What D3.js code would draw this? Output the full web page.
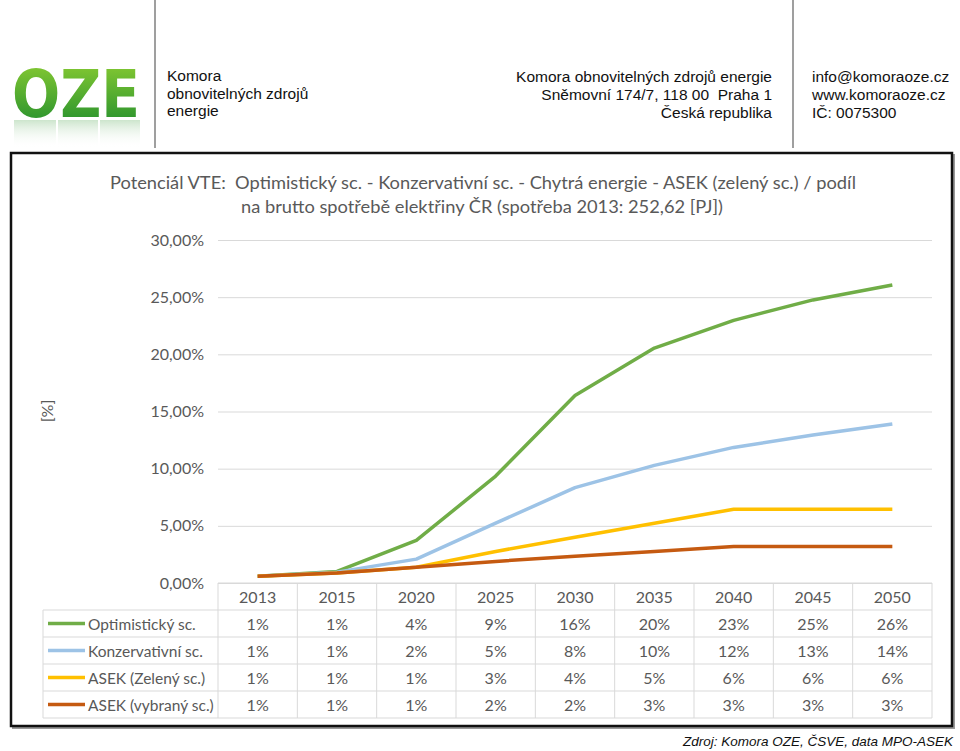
<!DOCTYPE html>
<html><head><meta charset="utf-8">
<script src="https://cdn.jsdelivr.net/npm/d3@7"></script>
<style>body{margin:0;background:#fff}svg{display:block}</style>
</head><body>
<script>
const categories = ["2013","2015","2020","2025","2030","2035","2040","2045","2050"];
const seriesNames = ["Optimistický sc.","Konzervativní sc.","ASEK (Zelený sc.)","ASEK (vybraný sc.)"];
const optimisticky = [0.0058,0.0101,0.0372,0.0935,0.164,0.2055,0.2297,0.2476,0.2606];
const konzervativni = [0.0058,0.0095,0.0209,0.0523,0.0834,0.1029,0.1186,0.1294,0.1390];
const asekZeleny = [0.0058,0.0087,0.0137,0.0276,0.0400,0.0523,0.0645,0.0645,0.0645];
const asekVybrany = [0.0058,0.0087,0.0137,0.0189,0.0233,0.0276,0.0320,0.0320,0.0320];
const tableLabels = [
  ["1%","1%","4%","9%","16%","20%","23%","25%","26%"],
  ["1%","1%","2%","5%","8%","10%","12%","13%","14%"],
  ["1%","1%","1%","3%","4%","5%","6%","6%","6%"],
  ["1%","1%","1%","2%","2%","3%","3%","3%","3%"]
];
const yTicks = [0,0.05,0.10,0.15,0.20,0.25,0.30];
const colors = ["#70ad47","#9dc3e6","#ffc000","#c55a11"];
const titleLines = ["Potenciál VTE:  Optimistický sc. - Konzervativní sc. - Chytrá energie - ASEK (zelený sc.) / podíl",
                    "na brutto spotřebě elektřiny ČR (spotřeba 2013: 252,62 [PJ])"];
const series = [optimisticky, konzervativni, asekZeleny, asekVybrany];

(function(){
const W=960,H=751;
const svg=d3.select("body").append("svg").attr("width",W).attr("height",H);
const defs=svg.append("defs");
const lg=defs.append("linearGradient").attr("id","logoG").attr("x1",0).attr("y1",0).attr("x2",0).attr("y2",1);
lg.append("stop").attr("offset","0%").attr("stop-color","#8fcf32");
lg.append("stop").attr("offset","100%").attr("stop-color","#1b8a2e");
const rg=defs.append("linearGradient").attr("id","reflG").attr("x1",0).attr("y1",0).attr("x2",0).attr("y2",1);
rg.append("stop").attr("offset","0%").attr("stop-color","#4aa24a").attr("stop-opacity",0.28);
rg.append("stop").attr("offset","100%").attr("stop-color","#ffffff").attr("stop-opacity",0);

// header
const hf="'Liberation Sans', Arial, sans-serif";
svg.append("text").attr("x",12).attr("y",117).attr("font-family","'DejaVu Sans', sans-serif").attr("font-weight","bold")
  .attr("font-size",66).attr("textLength",128).attr("lengthAdjust","spacingAndGlyphs")
  .attr("fill","url(#logoG)").text("OZE");
// faint reflection under logo
[[14,42],[58,40],[100,40]].forEach(([rx,rw])=>svg.append("rect").attr("x",rx).attr("y",120).attr("width",rw).attr("height",28).attr("fill","url(#reflG)"));
[155,793].forEach(xx=>svg.append("line").attr("x1",xx).attr("x2",xx).attr("y1",0).attr("y2",148).attr("stroke","#7f7f7f").attr("stroke-width",1.5));
const hs=15.5;
const leftH=["Komora","obnovitelných zdrojů","energie"];
leftH.forEach((t,i)=>svg.append("text").attr("x",167).attr("y",81+i*17.5).attr("font-family",hf).attr("font-size",hs).attr("fill","#111").text(t));
const rightH=["Komora obnovitelných zdrojů energie","Sněmovní 174/7, 118 00  Praha 1","Česká republika"];
rightH.forEach((t,i)=>svg.append("text").attr("x",772).attr("y",82+i*18).attr("text-anchor","end").attr("font-family",hf).attr("font-size",hs).attr("fill","#111").style("white-space","pre").text(t));
const contH=["info@komoraoze.cz","www.komoraoze.cz","IČ: 0075300"];
contH.forEach((t,i)=>svg.append("text").attr("x",812).attr("y",82+i*18).attr("font-family",hf).attr("font-size",hs).attr("fill","#111").text(t));

// chart box
svg.append("rect").attr("x",13).attr("y",155).attr("width",941).attr("height",573).attr("fill","none").attr("stroke","#999").attr("stroke-width",2);
svg.append("rect").attr("x",11).attr("y",153).attr("width",941).attr("height",573).attr("fill","#fff").attr("stroke","#111").attr("stroke-width",2.5);

const cf="Lato, 'Open Sans', sans-serif";
const tc="#595959";
svg.append("text").attr("x",110).attr("y",189).attr("font-family",cf).attr("font-size",18).attr("fill",tc)
  .attr("textLength",746).attr("lengthAdjust","spacingAndGlyphs").style("white-space","pre").text(titleLines[0]);
svg.append("text").attr("x",241).attr("y",213).attr("font-family",cf).attr("font-size",18).attr("fill",tc)
  .attr("textLength",482).attr("lengthAdjust","spacingAndGlyphs").text(titleLines[1]);

const x=d3.scaleBand().domain(categories).range([218,932]).paddingInner(0).paddingOuter(0);
const y=d3.scaleLinear().domain([0,0.30]).range([583,240]);
const fmt=v=>d3.format(".2f")(v*100).replace(".",",")+"%";

// gridlines
const yAxis=d3.axisLeft(y).tickValues(yTicks).tickSize(-(932-218)).tickFormat(fmt).tickPadding(14);
const ga=svg.append("g").attr("transform","translate(218,0)").call(yAxis);
ga.select(".domain").remove();
ga.selectAll(".tick line").attr("stroke","#d9d9d9").attr("stroke-width",1);
ga.selectAll(".tick text").attr("font-family",cf).attr("font-size",16).attr("fill",tc);

svg.append("text").attr("transform","translate(53,411) rotate(-90)").attr("text-anchor","middle")
  .attr("font-family",cf).attr("font-size",16).attr("fill",tc).text("[%]");

// lines
const line=d3.line().x((d,i)=>x(categories[i])+x.bandwidth()/2).y(d=>y(d));
series.forEach((s,k)=>svg.append("path").datum(s).attr("d",line).attr("fill","none")
  .attr("stroke",colors[k]).attr("stroke-width",3.5).attr("stroke-linejoin","round"));

// data table
const rowH=27, tTop=583, legL=43;
const tg=svg.append("g");
const gc="#d9d9d9";
tg.append("line").attr("x1",218).attr("x2",932).attr("y1",tTop).attr("y2",tTop).attr("stroke",gc);
for(let r=1;r<=5;r++) tg.append("line").attr("x1",legL).attr("x2",932).attr("y1",tTop+r*rowH).attr("y2",tTop+r*rowH).attr("stroke",gc);
tg.append("line").attr("x1",legL).attr("x2",legL).attr("y1",tTop+rowH).attr("y2",tTop+5*rowH).attr("stroke",gc);
categories.forEach(c=>tg.append("line").attr("x1",x(c)).attr("x2",x(c)).attr("y1",tTop).attr("y2",tTop+5*rowH).attr("stroke",gc));
tg.append("line").attr("x1",932).attr("x2",932).attr("y1",tTop).attr("y2",tTop+5*rowH).attr("stroke",gc);
categories.forEach(c=>tg.append("text").attr("x",x(c)+x.bandwidth()/2).attr("y",tTop+rowH/2+6).attr("text-anchor","middle")
  .attr("font-family",cf).attr("font-size",16).attr("fill",tc).text(c));
seriesNames.forEach((n,k)=>{
  const cy=tTop+(k+1)*rowH+rowH/2;
  tg.append("line").attr("x1",48).attr("x2",85).attr("y1",cy).attr("y2",cy).attr("stroke",colors[k]).attr("stroke-width",3.5);
  tg.append("text").attr("x",88).attr("y",cy+6).attr("font-family",cf).attr("font-size",15.5).attr("fill",tc).text(n);
  tableLabels[k].forEach((v,i)=>tg.append("text").attr("x",x(categories[i])+x.bandwidth()/2).attr("y",cy+6)
    .attr("text-anchor","middle").attr("font-family",cf).attr("font-size",16).attr("fill",tc).text(v));
});

// footer
svg.append("text").attr("x",953).attr("y",746).attr("text-anchor","end").attr("font-family",hf).attr("font-style","italic")
  .attr("font-size",13.5).attr("fill","#111").text("Zdroj: Komora OZE, ČSVE, data MPO-ASEK");
})();
</script>
</body></html>
